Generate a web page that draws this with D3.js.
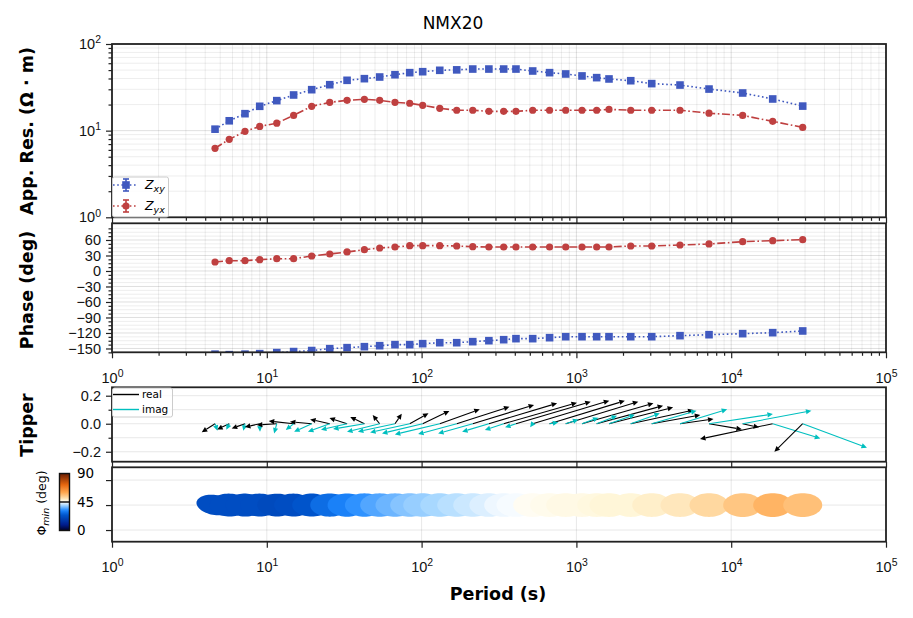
<!DOCTYPE html>
<html lang="en">
<head>
<meta charset="UTF-8" />
<title>NMX20</title>
<script src="https://d3js.org/d3.v7.min.js"></script>
<style>
  body { margin: 0; background: #fff; }
  svg { display: block; font-family: "DejaVu Sans", sans-serif; }
  .tick line { stroke: #222; stroke-width: 1.2; }
  .tick text { fill: #111; }
  .grid line { stroke: #000; stroke-width: 0.8; }
  .frame { fill: none; stroke: #222; stroke-width: 1.8; }
  .ylab { font-weight: bold; font-size: 17.5px; fill: #000; }
</style>
</head>
<body>
<script>
// ---- data ----
const periods = [4.63, 5.72, 7.23, 9.0, 11.6, 14.9, 19.5, 25.5, 33, 42.7, 53.6, 67.3, 83.8,
  101.6, 131, 168.6, 214, 272, 339, 407, 522, 671, 853, 1087, 1352, 1624, 2244, 3066,
  4670, 7190, 11860, 18540, 28970];

// apparent resistivity (ohm m)
const resXY = [10.4, 13.0, 15.7, 19.1, 22.2, 25.8, 29.7, 33.9, 38.1, 39.8, 41.6, 44.2, 46.7,
  47.9, 49.7, 50.3, 51.4, 51.4, 51.4, 51.4, 48.8, 46.7, 45.1, 42.8, 40.9, 39.5, 37.7, 34.9,
  33.6, 30.2, 27.2, 23.2, 19.2];
const resYX = [6.26, 7.94, 9.83, 11.2, 12.2, 15.0, 19.1, 21.2, 22.4, 23.0, 22.4, 21.2, 20.7,
  19.6, 18.1, 17.2, 17.2, 16.7, 16.7, 16.7, 17.2, 17.2, 17.2, 17.2, 17.2, 17.6, 17.2, 17.2,
  17.2, 15.9, 15.0, 12.8, 10.9];

// phase (deg)
const phaseXY = [-161, -162, -161, -160, -158, -156, -154, -150.4, -148.4, -146.5, -144.6,
  -142.6, -142.6, -140.7, -138.8, -138.8, -136.8, -134.9, -133.0, -131.0, -131.0, -129.1,
  -127.2, -127.2, -127.2, -127.2, -127.2, -127.2, -125.2, -123.3, -121.3, -119.4, -116.1];
const phaseYX = [17.4, 19.9, 19.9, 21.9, 23.8, 23.8, 29.0, 32.9, 36.8, 41.2, 44.5, 46.4, 49.0,
  49.0, 49.0, 48.4, 47.0, 46.4, 46.4, 46.4, 46.4, 46.4, 46.4, 46.4, 46.4, 46.4, 48.4, 48.4,
  50.3, 52.3, 56.7, 58.6, 60.6];

// tipper components (x part is stretched by log10(period) when drawn)
const tipRealX = [-0.129, -0.103, -0.100, -0.100, -0.121, -0.137, -0.109, -0.090, -0.075,
  -0.056, -0.026, 0.024, 0.063, 0.086, 0.122, 0.153, 0.170, 0.181, 0.187, 0.185, 0.182,
  0.172, 0.160, 0.152, 0.137, 0.129, 0.121, 0.090, 0.059, 0.055, 0.026, -0.110, -0.041];
const tipRealY = [-0.061, -0.041, -0.034, -0.024, -0.009, 0.019, 0.014, 0.031, 0.041, 0.048,
  0.062, 0.071, 0.074, 0.091, 0.103, 0.121, 0.134, 0.146, 0.150, 0.157, 0.164, 0.164, 0.157,
  0.146, 0.129, 0.117, 0.098, 0.062, 0.034, -0.040, -0.026, -0.109, -0.200];
const tipImagX = [0.023, -0.025, -0.013, 0.002, -0.016, -0.043, -0.088, -0.100, -0.111,
  -0.124, -0.122, -0.131, -0.133, -0.131, -0.137, -0.112, -0.096, -0.071, -0.048, -0.027,
  -0.006, 0.020, 0.028, 0.035, 0.042, 0.052, 0.056, 0.083, 0.083, 0.107, 0.109, 0.072, 0.093];
const tipImagY = [-0.050, -0.043, -0.050, -0.057, -0.069, -0.045, -0.057, -0.057, -0.043,
  -0.038, -0.057, -0.057, -0.062, -0.069, -0.076, -0.074, -0.069, -0.057, -0.045, -0.026,
  -0.026, 0.010, 0.031, 0.043, 0.057, 0.064, 0.074, 0.093, 0.103, 0.069, 0.093, -0.105, -0.171];

// phase tensor
const phiMin = [22, 22, 22, 22, 21, 22, 24, 28, 31, 33, 35, 36.5, 38, 39, 40, 41, 42, 43, 44,
  44.5, 46, 46.5, 47, 47, 47.5, 48, 48, 49, 50, 52, 55, 58, 56];
const phiMax = [28, 23.5, 23.5, 23.5, 22.5, 23.5, 25.5, 29.5, 32.5, 34.5, 36.5, 38, 39.5, 40.5,
  41.5, 42.5, 43.5, 44.5, 45.5, 46, 47.5, 48, 48.5, 48.5, 49, 49.5, 49.5, 50.5, 51.5, 53.5,
  56.5, 59.5, 57.5];
const azimuth = [-30, -10, -8, -5, -5, -5, 0, 0, 0, 0, 0, 0, 0, 0, 0, 0, 0, 0, 0, 0, 0, 0, 0,
  0, 0, 0, 0, 0, 0, 0, 0, 0, 0];

const decades = [1, 10, 100, 1000, 10000, 100000];
const resTicks = [1, 10, 100];
const phaseTicks = [-150, -120, -90, -60, -30, 0, 30, 60];
const tipTicks = [-0.2, 0, 0.2];
const ptTicks = [0, 45, 90];

// ---- layout ----
const W = 913, H = 618;
const L = 112, R = 886;
const colXY = "#4059bf", colYX = "#bf4040", colImag = "#00bfbf";

const svg = d3.select("body").append("svg").attr("width", W).attr("height", H);

const x = d3.scaleLog().domain([1, 1e5]).range([L, R]);
const xl = d3.scaleLinear().domain([0, 5]).range([L, R]);
const yRes = d3.scaleLog().domain([1, 100]).range([217.3, 44]);
const yPh = d3.scaleLinear().domain([-157.4, 92.3]).range([352.3, 223.3]);
const yTip = d3.scaleLinear().domain([-0.271, 0.26]).range([461.7, 387.3]);
const yPt = d3.scaleLinear().domain([-21, 113]).range([541.7, 467.3]);

const logMinors = [];
for (let d = 1; d < 1e5; d *= 10) for (let k = 2; k <= 9; k++) logMinors.push(d * k);
const resMinors = logMinors.filter(v => v > 1 && v < 100);
const phMinors = d3.range(-157.5, 92.3, 7.5).filter(v => v % 30 !== 0);

const sup = (base, exp) => sel => {
  sel.text("");
  sel.append("tspan").text(base);
  sel.append("tspan").attr("dy", "-0.55em").attr("font-size", "0.72em").text(exp);
};

function panel(name, yS) {
  const [y1, y0] = yS.range();
  svg.append("clipPath").attr("id", "clip-" + name)
    .append("rect").attr("x", L).attr("y", y0).attr("width", R - L).attr("height", y1 - y0);
  return { y0, y1 };
}

function grid(vals, isX, scale, y0, y1, op) {
  const g = svg.append("g").attr("class", "grid");
  vals.forEach(v => {
    const p = scale(v);
    if (isX) g.append("line").attr("x1", p).attr("x2", p).attr("y1", y0).attr("y2", y1);
    else g.append("line").attr("x1", L).attr("x2", R).attr("y1", p).attr("y2", p);
  });
  g.selectAll("line").attr("stroke-opacity", op);
}

function frame(y0, y1) {
  svg.append("rect").attr("class", "frame").attr("x", L).attr("y", y0)
    .attr("width", R - L).attr("height", y1 - y0);
}

function xTicks(scale, majors, minors, yb, labels) {
  const ax = d3.axisBottom(scale).tickValues(majors).tickSizeInner(6).tickSizeOuter(0)
    .tickPadding(14).tickFormat(labels ? (d => d) : "");
  const g = svg.append("g").attr("transform", `translate(0,${yb})`).call(ax);
  g.select(".domain").remove();
  g.attr("font-size", 14.5);
  if (labels) g.selectAll(".tick text").each(function (d) {
    d3.select(this).call(sup("10", labels(d)));
  });
  if (minors) {
    const m = svg.append("g").attr("transform", `translate(0,${yb})`)
      .call(d3.axisBottom(scale).tickValues(minors).tickSize(3.5).tickFormat(""));
    m.select(".domain").remove();
    m.selectAll(".tick line").attr("stroke-width", 0.9);
  }
}

function yTicks(scale, majors, minors, fmt) {
  const g = svg.append("g").attr("transform", `translate(${L},0)`)
    .call(d3.axisLeft(scale).tickValues(majors).tickSizeInner(6).tickSizeOuter(0).tickPadding(5)
      .tickFormat(fmt || ""));
  g.select(".domain").remove();
  g.attr("font-size", 14.5);
  if (minors) {
    const m = svg.append("g").attr("transform", `translate(${L},0)`)
      .call(d3.axisLeft(scale).tickValues(minors).tickSize(3.5).tickFormat(""));
    m.select(".domain").remove();
    m.selectAll(".tick line").attr("stroke-width", 0.9);
  }
  return g;
}

// ---- title ----
svg.append("text").attr("x", 453).attr("y", 29).attr("text-anchor", "middle")
  .attr("font-size", 17).text("NMX20");

// ================= resistivity =================
const pr = panel("res", yRes);
grid(logMinors, true, x, pr.y0, pr.y1, 0.09);
grid(decades, true, x, pr.y0, pr.y1, 0.16);
grid(resMinors, false, yRes, 0, 0, 0.09);
grid(resTicks, false, yRes, 0, 0, 0.16);

const gRes = yTicks(yRes, resTicks, resMinors, d => d);
gRes.selectAll(".tick text").each(function (d) {
  d3.select(this).call(sup("10", Math.round(Math.log10(d))));
});
xTicks(x, decades, logMinors, pr.y1, null);

const dRes = svg.append("g").attr("clip-path", "url(#clip-res)");
function series(g, yS, vals, color, dash, shape) {
  const line = d3.line().x((d, i) => x(periods[i])).y(d => yS(d));
  g.append("path").datum(vals).attr("d", line).attr("fill", "none")
    .attr("stroke", color).attr("stroke-width", 1.6).attr("stroke-dasharray", dash);
  vals.forEach((v, i) => {
    const cx = x(periods[i]), cy = yS(v);
    if (shape === "s") g.append("rect").attr("x", cx - 3.8).attr("y", cy - 3.8)
      .attr("width", 7.6).attr("height", 7.6).attr("fill", color);
    else g.append("circle").attr("cx", cx).attr("cy", cy).attr("r", 3.6).attr("fill", color);
  });
}
series(dRes, yRes, resXY, colXY, "1.6,2.6", "s");
series(dRes, yRes, resYX, colYX, "8,2.6,1.6,2.6", "o");
frame(pr.y0, pr.y1);

// legend
const lg = svg.append("g");
lg.append("rect").attr("x", L + 0.5).attr("y", 177).attr("width", 56).attr("height", 40)
  .attr("rx", 2).attr("fill", "#fff").attr("fill-opacity", 0.8).attr("stroke", "#ccc");
[[colXY, "s", "xy", 185], [colYX, "o", "yx", 206]].forEach(([c, sh, sub, ly]) => {
  lg.append("line").attr("x1", L + 1).attr("x2", L + 24).attr("y1", ly).attr("y2", ly)
    .attr("stroke", c).attr("stroke-width", 1.6).attr("stroke-dasharray", "1.6,2.6");
  lg.append("line").attr("x1", L + 14).attr("x2", L + 14).attr("y1", ly - 6).attr("y2", ly + 6)
    .attr("stroke", c).attr("stroke-width", 1.6);
  [ly - 6, ly + 6].forEach(yy => lg.append("line").attr("x1", L + 11).attr("x2", L + 17)
    .attr("y1", yy).attr("y2", yy).attr("stroke", c).attr("stroke-width", 1.6));
  if (sh === "s") lg.append("rect").attr("x", L + 10.2).attr("y", ly - 3.8).attr("width", 7.6)
    .attr("height", 7.6).attr("fill", c);
  else lg.append("circle").attr("cx", L + 14).attr("cy", ly).attr("r", 3.6).attr("fill", c);
  const t = lg.append("text").attr("x", L + 33).attr("y", ly + 4).attr("font-size", 12.5)
    .attr("font-style", "italic");
  t.append("tspan").text("Z");
  t.append("tspan").attr("dy", 3).attr("font-size", 9.5).text(sub);
});

// ================= phase =================
const pp = panel("ph", yPh);
grid(logMinors, true, x, pp.y0, pp.y1, 0.09);
grid(decades, true, x, pp.y0, pp.y1, 0.16);
grid(phMinors, false, yPh, 0, 0, 0.09);
grid(phaseTicks, false, yPh, 0, 0, 0.16);
yTicks(yPh, phaseTicks, phMinors, d3.format("d"));
xTicks(x, decades, logMinors, pp.y1, d => Math.round(Math.log10(d)));
const dPh = svg.append("g").attr("clip-path", "url(#clip-ph)");
series(dPh, yPh, phaseXY, colXY, "1.6,2.6", "s");
series(dPh, yPh, phaseYX, colYX, "8,2.6,1.6,2.6", "o");
frame(pp.y0, pp.y1);

// ================= tipper =================
const pt = panel("tip", yTip);
grid(decades.map(Math.log10), true, xl, pt.y0, pt.y1, 0.12);
grid([-0.2, -0.1, 0, 0.1, 0.2], false, yTip, 0, 0, 0.12);
yTicks(yTip, tipTicks, [-0.1, 0.1], d3.format(".1f"));
xTicks(xl, d3.range(0, 6), null, pt.y1, null);

const dTip = svg.append("g").attr("clip-path", "url(#clip-tip)");
function arrow(g, x0, y0, x1, y1, c) {
  const a = Math.atan2(y1 - y0, x1 - x0), hl = 5.5, hw = 2.6;
  const bx = x1 - hl * Math.cos(a), by = y1 - hl * Math.sin(a);
  g.append("line").attr("x1", x0).attr("y1", y0).attr("x2", bx).attr("y2", by)
    .attr("stroke", c).attr("stroke-width", 1.1);
  g.append("polygon").attr("fill", c).attr("points", [
    [x1, y1], [bx + hw * Math.sin(a), by - hw * Math.cos(a)], [bx - hw * Math.sin(a), by + hw * Math.cos(a)]
  ].map(p => p.join(",")).join(" "));
}
periods.forEach((p, i) => {
  const lp = Math.log10(p);
  arrow(dTip, xl(lp), yTip(0), xl(lp + tipRealX[i] * lp), yTip(tipRealY[i]), "#000");
  arrow(dTip, xl(lp), yTip(0), xl(lp + tipImagX[i] * lp), yTip(tipImagY[i]), colImag);
});
frame(pt.y0, pt.y1);

// tipper legend
const tl = svg.append("g");
tl.append("rect").attr("x", L + 0.5).attr("y", 388).attr("width", 60).attr("height", 29)
  .attr("rx", 2).attr("fill", "#fff").attr("fill-opacity", 0.8).attr("stroke", "#ccc");
[["#000", "real", 394.5], [colImag, "imag", 409.5]].forEach(([c, t, ly]) => {
  tl.append("line").attr("x1", L + 1).attr("x2", L + 27).attr("y1", ly).attr("y2", ly)
    .attr("stroke", c).attr("stroke-width", 1.4);
  tl.append("text").attr("x", L + 30).attr("y", ly + 3.5).attr("font-size", 10.5).text(t);
});

// ================= phase tensor =================
const pe = panel("pt", yPt);
grid(decades.map(Math.log10), true, xl, pe.y0, pe.y1, 0.12);
grid(ptTicks, false, yPt, 0, 0, 0.12);
yTicks(yPt, ptTicks, null, null);
xTicks(xl, d3.range(0, 6), null, pe.y1, d => d);

const cmap = d3.scaleLinear()
  .domain([0, 9, 20, 25, 32, 40, 45, 48, 52, 60, 72, 90])
  .range(["#000028", "#001c8c", "#0046b8", "#0058d0", "#1e88ff", "#a8d8ff", "#ffffff",
    "#fff6d8", "#ffd8a0", "#ffa850", "#e86810", "#6a1c00"])
  .interpolate(d3.interpolateRgb);

const dPt = svg.append("g").attr("clip-path", "url(#clip-pt)");
const eW = 0.126, eH = 22; // ellipse unit size in decades / degrees
periods.forEach((p, i) => {
  const lp = Math.log10(p), b = phiMin[i] / phiMax[i], az = azimuth[i] * Math.PI / 180;
  const pts = d3.range(0, 64).map(k => {
    const t = k / 64 * 2 * Math.PI, u = Math.cos(t), v = b * Math.sin(t);
    const ux = u * Math.cos(az) - v * Math.sin(az), uy = u * Math.sin(az) + v * Math.cos(az);
    return [xl(lp + ux * eW), yPt(45 + uy * eH)];
  });
  dPt.append("path").attr("d", d3.line().curve(d3.curveLinearClosed)(pts))
    .attr("fill", cmap(phiMin[i]));
});
frame(pe.y0, pe.y1);

// colorbar
const yCb = d3.scaleLinear().domain([0, 90]).range([530.5, 473.5]);
const grad = svg.append("defs").append("linearGradient").attr("id", "cb")
  .attr("x1", 0).attr("y1", 1).attr("x2", 0).attr("y2", 0);
d3.range(0, 91, 3).forEach(v => grad.append("stop").attr("offset", v / 90).attr("stop-color", cmap(v)));
svg.append("rect").attr("x", 59.5).attr("y", yCb(90)).attr("width", 10)
  .attr("height", yCb(0) - yCb(90)).attr("fill", "url(#cb)").attr("stroke", "#111").attr("stroke-width", 1.4);
svg.append("line").attr("x1", 59.5).attr("x2", 69.5).attr("y1", yCb(45)).attr("y2", yCb(45))
  .attr("stroke", "#000").attr("stroke-width", 1.4);
ptTicks.forEach(v => svg.append("text").attr("x", 77).attr("y", yCb(v)).attr("dy", "0.36em")
  .attr("font-size", 13.5).text(v));
const cbl = svg.append("text").attr("transform", "translate(46,503) rotate(-90)")
  .attr("text-anchor", "middle").attr("font-size", 12.5);
cbl.append("tspan").text("\u03a6");
cbl.append("tspan").attr("dy", 3).attr("font-size", 9.5).attr("font-style", "italic").text("min");
cbl.append("tspan").attr("dy", -3).text(" (deg)");

// ---- axis labels ----
const ylab = (t, cy) => svg.append("text").attr("class", "ylab")
  .attr("transform", `translate(33,${cy}) rotate(-90)`).attr("text-anchor", "middle").text(t);
ylab("App. Res. (\u03a9 \u00b7 m)", 131);
ylab("Phase (deg)", 290);
ylab("Tipper", 425);
svg.append("text").attr("class", "ylab").attr("x", 498).attr("y", 600)
  .attr("font-size", 18).attr("text-anchor", "middle").text("Period (s)");
</script>
</body>
</html>
